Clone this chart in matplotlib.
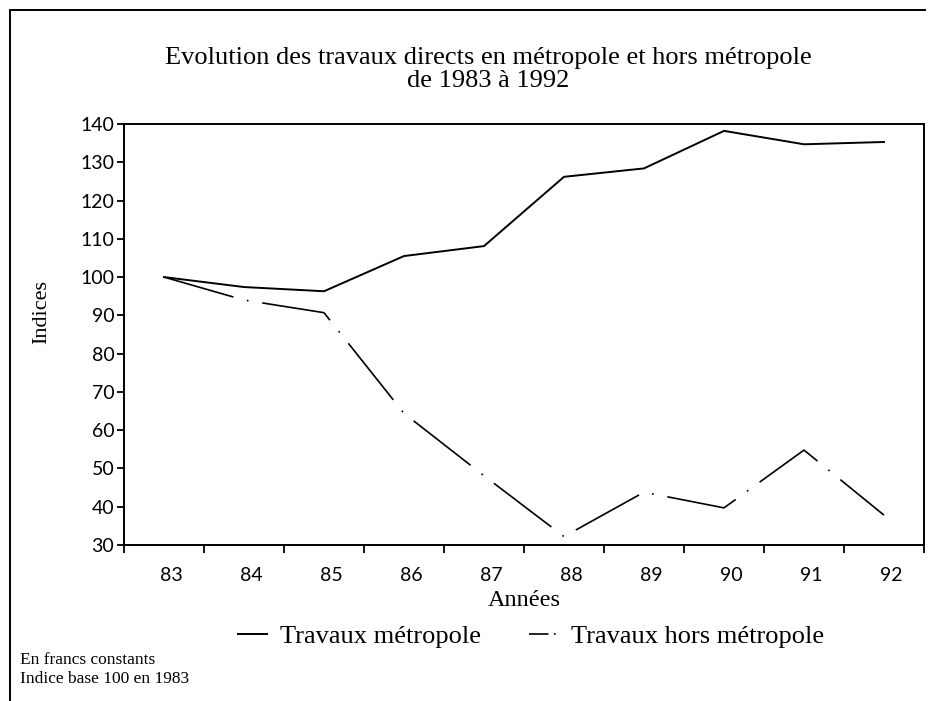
import matplotlib
matplotlib.use("Agg")
import matplotlib.pyplot as plt
import matplotlib.transforms as mtransforms
from matplotlib.lines import Line2D

plt.rcParams['lines.scale_dashes'] = False

years = ["83", "84", "85", "86", "87", "88", "89", "90", "91", "92"]
metropole = [100, 97.4, 96.3, 105.5, 108.1, 126.2, 128.4, 138.2, 134.7, 135.3]
hors_metropole = [100, 94.0, 90.7, 64.4, 48.1, 32.2, 43.8, 39.7, 54.8, 37.8]
yticks = [30, 40, 50, 60, 70, 80, 90, 100, 110, 120, 130, 140]

serif = "Liberation Serif"
sans = "Lato"

fig = plt.figure(figsize=(9.30, 7.01), dpi=100)
ax = fig.add_axes([124/930, 1-545/701, 800/930, 421/701])

x = list(range(len(years)))
ax.plot(x, metropole, color="black", lw=1.4, solid_joinstyle="miter")
dd = (0, (52, 10, 1.2, 10))
ax.plot(x, hors_metropole, color="black", lw=1.2, linestyle=dd)

ax.set_xlim(-0.5, len(years) - 0.5)
ax.set_ylim(30, 140)
ax.set_yticks(yticks)
ax.set_yticklabels([str(v) for v in yticks], fontfamily=sans, fontsize=14)
ax.set_xticks(x)
ax.set_xticklabels(years, fontfamily=sans, fontsize=14)
ax.set_xticks([i - 0.5 for i in range(len(years) + 1)], minor=True)
ax.tick_params(axis="x", which="major", length=0, pad=16)
ax.tick_params(axis="x", which="minor", length=6, width=1.3, direction="out")
ax.tick_params(axis="y", length=5, width=1.3, direction="out", pad=2)
offset = mtransforms.ScaledTranslation(7/100, 0, fig.dpi_scale_trans)
for lab in ax.get_xticklabels():
    lab.set_transform(lab.get_transform() + offset)
for s in ax.spines.values():
    s.set_linewidth(1.4)

ax.set_xlabel("Années", fontfamily=serif, fontsize=17.5, labelpad=4)
ax.set_ylabel("Indices", fontfamily=serif, fontsize=16)
ax.yaxis.set_label_coords((51-124)/800, (545-312)/421)

fig.text(488/930, 1-58/701, "Evolution des travaux directs en métropole et hors métropole",
         ha="center", va="center", fontfamily=serif, fontsize=19)
fig.text(488/930, 1-81/701, "de 1983 à 1992",
         ha="center", va="center", fontfamily=serif, fontsize=19)

h1 = Line2D([], [], color="black", lw=1.4)
h2 = Line2D([], [], color="black", lw=1.2, linestyle=(0, (14, 4, 1.2, 20)))
fig.legend([h1, h2], ["Travaux métropole", "Travaux hors métropole"],
           loc="center", bbox_to_anchor=(531/930, 1-636/701), ncol=2,
           frameon=False, handlelength=1.1, handletextpad=0.5, columnspacing=1.8,
           prop={"family": serif, "size": 19})

fig.text(20/930, 1-660/701, "En francs constants", ha="left", va="center",
         fontfamily=serif, fontsize=12.5)
fig.text(20/930, 1-679/701, "Indice base 100 en 1983", ha="left", va="center",
         fontfamily=serif, fontsize=12.5)

# outer frame lines (left and top)
fig.add_artist(Line2D([10/930, 10/930], [0, 1-10/701], transform=fig.transFigure,
                      color="black", lw=1.4))
fig.add_artist(Line2D([10/930, 925/930], [1-10/701, 1-10/701], transform=fig.transFigure,
                      color="black", lw=1.4))

fig.savefig("out.png", dpi=100)
